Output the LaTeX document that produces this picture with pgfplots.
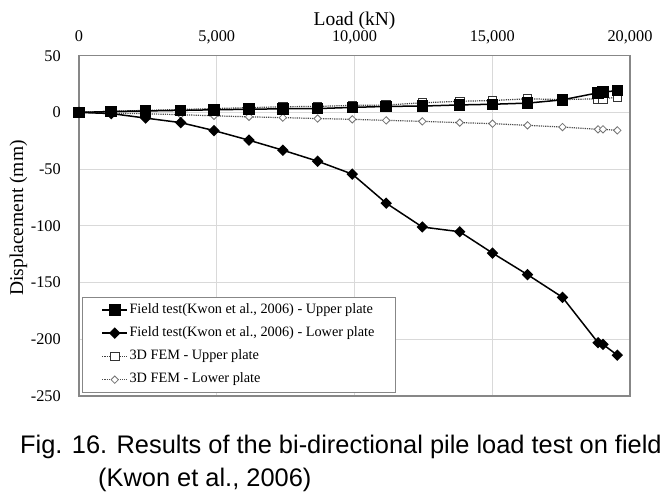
\documentclass[border=0pt]{standalone}
\usepackage{fontspec}
\setmainfont{Liberation Serif}
\newfontfamily\capfont{Liberation Sans}
\usepackage{pgfplots}
\pgfplotsset{compat=1.18}
\pgfplotstableread{
load fu fl mu ml
0 0 0 0 0
1170 0.8 -1 1.0 -0.5
2420 1.3 -5 1.8 -1.2
3690 1.8 -9 2.6 -2.0
4900 2.3 -16 3.4 -3.0
6170 2.8 -24.5 4.2 -3.9
7400 3.2 -33.3 5.0 -4.6
8660 3.4 -43 5.3 -5.4
9920 4.4 -54.4 6.2 -6.1
11150 5.3 -80 6.5 -7.0
12460 5.6 -101 8.5 -7.9
13820 6.6 -105.2 9.8 -9.0
15010 7.2 -124 10.5 -9.9
16280 8.2 -143 12.0 -11.4
17550 11.1 -163 11.3 -12.9
18840 17.3 -203 12.0 -14.9
19020 17.8 -204.5 12.0 -14.9
19540 19.3 -214 13.4 -15.8
}\datatable
\definecolor{gridgray}{HTML}{D9D9D9}
\definecolor{framegray}{HTML}{878787}
\begin{document}
\begin{tikzpicture}[x=1pt,y=1pt]
\useasboundingbox (0,0) rectangle (670,496);
\begin{axis}[
  at={(79pt,100pt)}, anchor=south west,
  scale only axis, width=551pt, height=340.3pt,
  xmin=0, xmax=20000, ymin=-250, ymax=50,
  xtick={0,5000,...,20000}, ytick={-250,-200,...,50},
  xticklabel pos=upper,
  grid=major, major grid style={gridgray, line width=1pt},
  axis line style={framegray, line width=1.2pt},
  major tick length=0pt,
  scaled x ticks=false,
  /pgf/number format/.cd, 1000 sep={,}, assume math mode=true, /pgfplots/.cd,
  ticklabel style={font=\fontsize{16.3}{16.3}\selectfont},
  xticklabel style={anchor=base, yshift=14pt, inner sep=0pt},
  yticklabel style={anchor=east, inner sep=0pt, xshift=-18pt},
  xlabel={Load (kN)},
  xlabel style={at={(axis description cs:0.5,1)}, anchor=base, yshift=30.5pt, inner sep=0pt, font=\fontsize{19.5}{19.5}\selectfont},
  ylabel={Displacement (mm)},
  ylabel style={at={(axis description cs:-0.1016,0.523)}, anchor=base, inner sep=0pt, font=\fontsize{19.5}{19.5}\selectfont},
  legend style={
    at={(axis description cs:0.0055,0.009)}, anchor=south west,
    draw=framegray, line width=1pt, fill=white,
    inner xsep=19pt, inner ysep=6pt,
    font=\fontsize{14.3}{14.3}\selectfont,
    row sep=9.8pt, column sep=0pt,
    nodes={inner xsep=1.5pt, inner ysep=0pt, text height=10pt, text depth=3.5pt},
  },
  legend cell align=left,
  reverse legend,
  legend image code/.code={\draw[mark repeat=2,mark phase=2,#1] plot coordinates {(0pt,0pt)(12.5pt,0pt)(25pt,0pt)};},
]
\addplot[color=black!70, densely dotted, line width=1.2pt, mark=square*, mark size=2.6pt,
  mark options={solid, fill=white, draw=black!55, rotate=45, line width=0.8pt}] table[x=load,y=ml] {\datatable};
\addlegendentry{3D FEM - Lower plate}
\addplot[color=black!75, densely dotted, line width=1.2pt, mark=square*, mark size=4.3pt,
  mark options={solid, fill=white, draw=black!80, line width=0.9pt}] table[x=load,y=mu] {\datatable};
\addlegendentry{3D FEM - Upper plate}
\addplot[black, line width=1.5pt, mark=square*, mark size=3.3pt, mark options={rotate=45}] table[x=load,y=fl] {\datatable};
\addlegendentry{Field test(Kwon et al., 2006) - Lower plate}
\addplot[black, line width=1.5pt, mark=square*, mark size=5pt] table[x=load,y=fu] {\datatable};
\addlegendentry{Field test(Kwon et al., 2006) - Upper plate}
\end{axis}
\node[anchor=base west, inner sep=0pt] at (20,43) {\capfont\fontsize{25.4}{25.4}\selectfont Fig. 16. Results of the bi-directional pile load test on field};
\node[anchor=base west, inner sep=0pt] at (98,10) {\capfont\fontsize{25.4}{25.4}\selectfont (Kwon et al., 2006)};
\end{tikzpicture}
\end{document}
